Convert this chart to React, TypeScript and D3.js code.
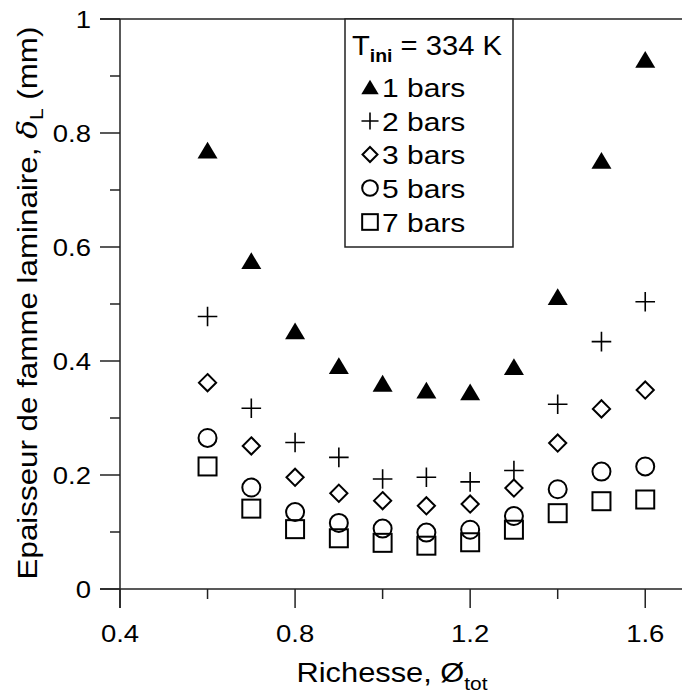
import React from "react";
import * as d3 from "d3";

const phi = [0.6, 0.7, 0.8, 0.9, 1.0, 1.1, 1.2, 1.3, 1.4, 1.5, 1.6];
const bar1 = [0.770, 0.576, 0.453, 0.392, 0.361, 0.349, 0.346, 0.390, 0.513, 0.752, 0.929];
const bar2 = [0.478, 0.317, 0.257, 0.231, 0.193, 0.196, 0.188, 0.208, 0.324, 0.434, 0.504];
const bar3 = [0.362, 0.251, 0.196, 0.168, 0.155, 0.146, 0.149, 0.177, 0.256, 0.316, 0.349];
const bar5 = [0.265, 0.178, 0.135, 0.116, 0.106, 0.099, 0.104, 0.128, 0.175, 0.206, 0.215];
const bar7 = [0.215, 0.141, 0.105, 0.089, 0.081, 0.076, 0.082, 0.104, 0.133, 0.154, 0.157];

const seriesLabels = ["1 bars", "2 bars", "3 bars", "5 bars", "7 bars"];
const seriesShapes = ["triangle", "plus", "diamond", "circle", "square"];
const xTickLabels = ["0.4", "0.8", "1.2", "1.6"];
const yTickLabels = ["0", "0.2", "0.4", "0.6", "0.8", "1"];

const W = 682;
const H = 696;
const FONT = "'Liberation Sans', Arial, Helvetica, sans-serif";
const AX = "#222";

function Marker({ shape, x, y, s = 1 }: { shape: string; x: number; y: number; s?: number }) {
  if (shape === "triangle") {
    const hw = 10 * s, hh = 8.4 * s;
    return <path d={`M${x},${y - hh}L${x + hw},${y + hh}L${x - hw},${y + hh}Z`} fill="#000" />;
  }
  if (shape === "plus") {
    const a = 9.8 * s;
    return <path d={`M${x - a},${y}H${x + a}M${x},${y - a}V${y + a}`} stroke="#000" strokeWidth={1.6} fill="none" />;
  }
  if (shape === "diamond") {
    const a = 8.6 * s;
    return <path d={`M${x},${y - a}L${x + a},${y}L${x},${y + a}L${x - a},${y}Z`} stroke="#000" strokeWidth={2} fill="none" />;
  }
  if (shape === "circle") {
    return <circle cx={x} cy={y} r={9 * s} stroke="#000" strokeWidth={2} fill="none" />;
  }
  const h = 9 * s;
  return <rect x={x - h} y={y - h} width={2 * h} height={2 * h} stroke="#000" strokeWidth={2} fill="none" />;
}

export default function App() {
  const x = d3.scaleLinear().domain([0.4, 1.7]).range([120, 689]);
  const y = d3.scaleLinear().domain([0, 1]).range([589, 19]);
  const series = [bar1, bar2, bar3, bar5, bar7];

  const yMajor = d3.range(0, 1.0001, 0.2);
  const yMinor = d3.range(0.1, 1, 0.2);
  const xMajor = [0.4, 0.8, 1.2, 1.6];
  const xMinor = [0.6, 1.0, 1.4];

  const legendRows = [87, 121, 154.5, 188, 222];

  return (
    <svg width={W} height={H} style={{ position: "absolute", left: 0, top: 0, background: "#fff" }} fontFamily={FONT}>
      <rect x={0} y={0} width={W} height={H} fill="#fff" />
      {/* frame lines */}
      <line x1={100} x2={W} y1={y(1)} y2={y(1)} stroke={AX} strokeWidth={1.5} />
      <line x1={100} x2={W} y1={y(0)} y2={y(0)} stroke={AX} strokeWidth={1.5} />
      <line x1={x(0.4)} x2={x(0.4)} y1={y(1)} y2={608} stroke={AX} strokeWidth={1.5} />
      {yMajor.map((v, i) => (
        <line key={"ym" + i} x1={100} x2={120} y1={y(v)} y2={y(v)} stroke={AX} strokeWidth={1.5} />
      ))}
      {yMinor.map((v, i) => (
        <line key={"yn" + i} x1={110} x2={120} y1={y(v)} y2={y(v)} stroke={AX} strokeWidth={1.5} />
      ))}
      {xMajor.map((v, i) => (
        <line key={"xm" + i} x1={x(v)} x2={x(v)} y1={589} y2={608} stroke={AX} strokeWidth={1.5} />
      ))}
      {xMinor.map((v, i) => (
        <line key={"xn" + i} x1={x(v)} x2={x(v)} y1={589} y2={599} stroke={AX} strokeWidth={1.5} />
      ))}
      {/* tick labels */}
      {yMajor.map((v, i) => (
        <text key={"yl" + i} transform={`translate(91,${y(v) + 8.5}) scale(1.17,1)`} textAnchor="end" fontSize={23.5} fill="#000">
          {yTickLabels[i]}
        </text>
      ))}
      {xMajor.map((v, i) => (
        <text key={"xl" + i} transform={`translate(${x(v)},${642}) scale(1.17,1)`} textAnchor="middle" fontSize={23.5} fill="#000">
          {xTickLabels[i]}
        </text>
      ))}
      {/* axis titles */}
      <text transform={`translate(392,682) scale(1.1,1)`} textAnchor="middle" fontSize={28} fill="#000">
        Richesse, Ø<tspan fontSize={19} dy={8}>tot</tspan>
      </text>
      <text transform={`translate(37,303) rotate(-90) scale(1.1,1)`} textAnchor="middle" fontSize={28.5} fill="#000">
        Epaisseur de famme laminaire, <tspan fontStyle="italic" fontFamily="'DejaVu Serif', serif">δ</tspan>
        <tspan fontSize={19} dy={6}>L</tspan>
        <tspan dy={-6}> (mm)</tspan>
      </text>
      {/* data */}
      {series.map((vals, si) =>
        vals.map((v, i) => <Marker key={si + "-" + i} shape={seriesShapes[si]} x={x(phi[i])} y={y(v)} />)
      )}
      {/* legend */}
      <rect x={345} y={19} width={168} height={228} fill="#fff" stroke={AX} strokeWidth={1.5} />
      <text transform={`translate(352,55) scale(1.08,1)`} fontSize={27} fill="#000">
        T<tspan fontSize={18} fontWeight="bold" dy={7}>ini</tspan>
        <tspan dy={-7}> = 334 K</tspan>
      </text>
      {seriesLabels.map((lab, i) => (
        <g key={"lg" + i}>
          <Marker shape={seriesShapes[i]} x={370} y={legendRows[i]} s={0.87} />
          <text transform={`translate(382,${legendRows[i] + 9.5}) scale(1.2,1)`} fontSize={25} fill="#000">
            {lab}
          </text>
        </g>
      ))}
    </svg>
  );
}
